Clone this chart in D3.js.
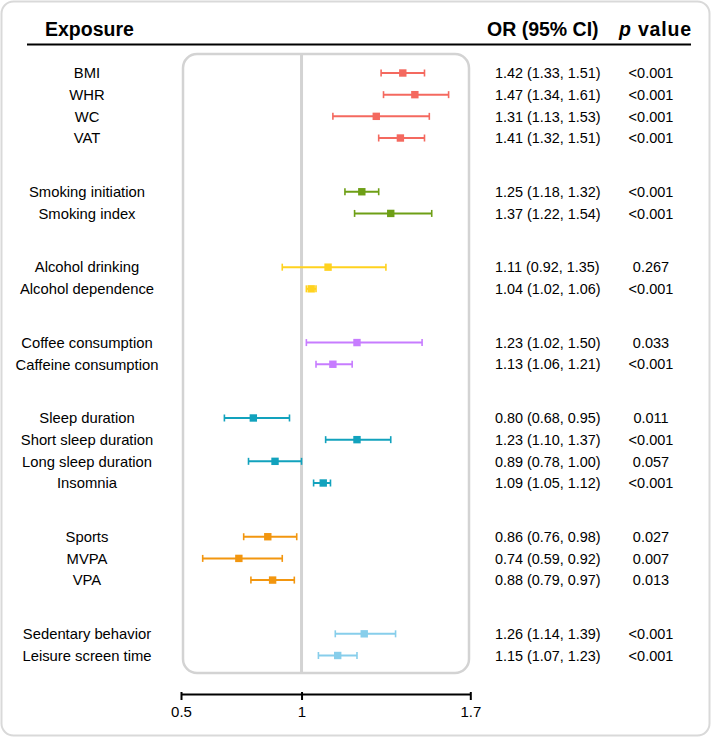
<!DOCTYPE html>
<html><head><meta charset="utf-8">
<script src="https://cdn.jsdelivr.net/npm/d3@7"></script>
<style>body{margin:0;background:#fff}svg{display:block}text{font-family:"Liberation Sans",Arial,Helvetica,sans-serif;fill:#000}</style>
</head><body>
<svg id="c" width="711" height="737"></svg>
<script>
const exposures = ["BMI","WHR","WC","VAT","Smoking initiation","Smoking index","Alcohol drinking","Alcohol dependence","Coffee consumption","Caffeine consumption","Sleep duration","Short sleep duration","Long sleep duration","Insomnia","Sports","MVPA","VPA","Sedentary behavior","Leisure screen time"];
const groups = [0,0,0,0,1,1,2,2,3,3,4,4,4,4,5,5,5,6,6];
const orValues = [1.42,1.47,1.31,1.41,1.25,1.37,1.11,1.04,1.23,1.13,0.80,1.23,0.89,1.09,0.86,0.74,0.88,1.26,1.15];
const ciLow = [1.33,1.34,1.13,1.32,1.18,1.22,0.92,1.02,1.02,1.06,0.68,1.10,0.78,1.05,0.76,0.59,0.79,1.14,1.07];
const ciHigh = [1.51,1.61,1.53,1.51,1.32,1.54,1.35,1.06,1.50,1.21,0.95,1.37,1.00,1.12,0.98,0.92,0.97,1.39,1.23];
const orLabels = ["1.42 (1.33, 1.51)","1.47 (1.34, 1.61)","1.31 (1.13, 1.53)","1.41 (1.32, 1.51)","1.25 (1.18, 1.32)","1.37 (1.22, 1.54)","1.11 (0.92, 1.35)","1.04 (1.02, 1.06)","1.23 (1.02, 1.50)","1.13 (1.06, 1.21)","0.80 (0.68, 0.95)","1.23 (1.10, 1.37)","0.89 (0.78, 1.00)","1.09 (1.05, 1.12)","0.86 (0.76, 0.98)","0.74 (0.59, 0.92)","0.88 (0.79, 0.97)","1.26 (1.14, 1.39)","1.15 (1.07, 1.23)"];
const pValues = ["<0.001","<0.001","<0.001","<0.001","<0.001","<0.001","0.267","<0.001","0.033","<0.001","0.011","<0.001","0.057","<0.001","0.027","0.007","0.013","<0.001","<0.001"];
const groupColors = ["#F4695F","#6E9F16","#FFD21F","#C77CFF","#12A2BD","#F2960F","#87CEEB"];
const xTicks = [0.5,1,1.7];

const svg = d3.select("#c");
const font = '"Liberation Sans",Arial,Helvetica,sans-serif';

// outer frame
svg.append("rect").attr("x",1.5).attr("y",1.5).attr("width",708).attr("height",734)
  .attr("rx",12).attr("fill","#fff").attr("stroke","#d9d9d9").attr("stroke-width",2);

// y positions: index with extra gap between groups
const pos = [];
let p = 0;
exposures.forEach((d,i)=>{ if(i>0){ p += (groups[i]!==groups[i-1]) ? 2.48 : 1; } pos.push(p); });
const y = d3.scaleLinear().domain([0, 1]).range([73, 73+21.67]);
const x = d3.scaleLinear().domain([0.5,1.7]).range([181,470.3]);

// header
svg.append("text").attr("x",45).attr("y",36).attr("font-size",19.5).attr("font-weight","bold").text("Exposure");
svg.append("text").attr("x",487).attr("y",36).attr("font-size",19.5).attr("font-weight","bold").text("OR (95% CI)");
const pv = svg.append("text").attr("x",619).attr("y",36).attr("font-size",19.5).attr("font-weight","bold")
  .attr("textLength",72).attr("lengthAdjust","spacing");
pv.append("tspan").attr("font-style","italic").text("p");
pv.append("tspan").text(" value");
svg.append("line").attr("x1",27).attr("x2",691).attr("y1",44.5).attr("y2",44.5).attr("stroke","#000").attr("stroke-width",2);

// panel
svg.append("rect").attr("x",183).attr("y",54).attr("width",286).attr("height",619)
  .attr("rx",14).attr("fill","none").attr("stroke","#d3d3d3").attr("stroke-width",2.5);
svg.append("line").attr("x1",x(1)).attr("x2",x(1)).attr("y1",54).attr("y2",673).attr("stroke","#d3d3d3").attr("stroke-width",3);

// rows
const rows = svg.append("g").selectAll("g").data(exposures).join("g");
rows.append("text").attr("x",87).attr("y",(d,i)=>y(pos[i])).attr("dy","0.36em").attr("text-anchor","middle").attr("font-size",14.8).text(d=>d);
rows.append("text").attr("x",495).attr("y",(d,i)=>y(pos[i])).attr("dy","0.36em").attr("font-size",14.4).text((d,i)=>orLabels[i]);
rows.append("text").attr("x",651).attr("y",(d,i)=>y(pos[i])).attr("dy","0.36em").attr("text-anchor","middle").attr("font-size",14.5).text((d,i)=>pValues[i]);

const col = i => groupColors[groups[i]];
rows.append("line").attr("x1",(d,i)=>x(ciLow[i])).attr("x2",(d,i)=>x(ciHigh[i]))
  .attr("y1",(d,i)=>y(pos[i])).attr("y2",(d,i)=>y(pos[i])).attr("stroke",(d,i)=>col(i)).attr("stroke-width",2);
[ciLow,ciHigh].forEach(arr=>{
  rows.append("line").attr("x1",(d,i)=>x(arr[i])).attr("x2",(d,i)=>x(arr[i]))
    .attr("y1",(d,i)=>y(pos[i])-3.5).attr("y2",(d,i)=>y(pos[i])+3.5).attr("stroke",(d,i)=>col(i)).attr("stroke-width",1.6);
});
rows.append("rect").attr("x",(d,i)=>x(orValues[i])-3.7).attr("y",(d,i)=>y(pos[i])-3.7).attr("width",7.4).attr("height",7.4).attr("fill",(d,i)=>col(i));

// axis
const axis = d3.axisBottom(x).tickValues(xTicks).tickFormat(d3.format("")).tickSize(6).tickSizeOuter(0);
const ag = svg.append("g").attr("transform","translate(0,694)").call(axis);
ag.select(".domain").attr("stroke","#000").attr("stroke-width",2);
ag.selectAll(".tick line").attr("stroke","#000").attr("stroke-width",2).attr("y1",-2);
ag.selectAll(".tick text").attr("font-size",15).attr("font-family",font).attr("fill","#000").attr("dy","0.9em");
</script>
</body></html>
